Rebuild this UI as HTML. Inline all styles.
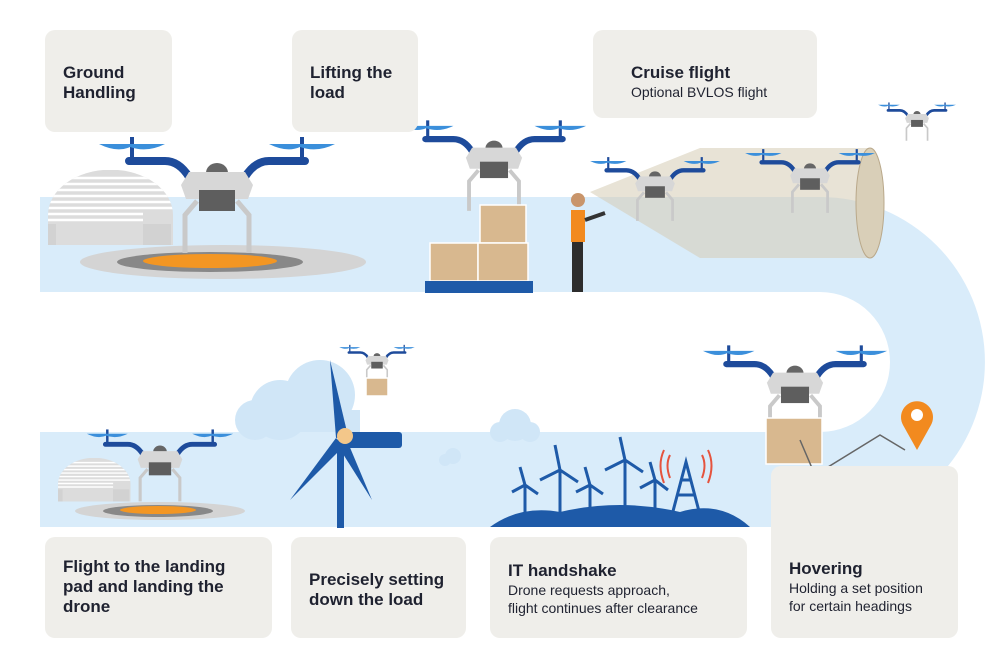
<!DOCTYPE html>
<html><head><meta charset="utf-8"><style>
body{margin:0;background:#fff;width:1000px;height:666px;overflow:hidden;font-family:"Liberation Sans",sans-serif}
.box{position:absolute;background:#efeeea;border-radius:10px;color:#1f2230;font-weight:bold;font-size:17px;line-height:20px;padding:0 18px;box-sizing:border-box}
.sub{font-weight:normal;font-size:14px;line-height:18px}
</style></head><body>
<svg width="1000" height="666" style="position:absolute;left:0;top:0">
<defs>
<clipPath id="hc"><path d="M0,75 L0,45 A62,45 0 0 1 125,45 L125,75 Z"/></clipPath>
<g id="drone">
 <rect x="-87" y="-38" width="4" height="26" fill="#1e4b9b"/>
 <rect x="83" y="-38" width="4" height="26" fill="#1e4b9b"/>
 <path d="M-118,-31 Q-100,-22 -87,-28 Q-70,-22 -52,-31 Z" fill="#3b8fdb"/>
 <path d="M52,-31 Q70,-22 83,-28 Q100,-22 118,-31 Z" fill="#3b8fdb"/>
 <path d="M-88,-14 L-52,-14 Q-38,-14 -28,2" stroke="#1e4b9b" stroke-width="8" fill="none" stroke-linecap="round"/>
 <path d="M88,-14 L52,-14 Q38,-14 28,2" stroke="#1e4b9b" stroke-width="8" fill="none" stroke-linecap="round"/>
 <path d="M-11,-2 A11,10 0 0 1 11,-2 Z" fill="#666"/>
 <path d="M-28,-3 L28,-3 L36,10 L31,24 L-31,24 L-36,10 Z" fill="#d7d7d7"/>
 <rect x="-18" y="15" width="36" height="21" fill="#5e5e5e"/>
 <path d="M-20,26 L-32,40 L-32,78 M20,26 L32,40 L32,78" stroke="#c9c9c9" stroke-width="5" fill="none"/>
</g>
<g id="hangar">
 <g clip-path="url(#hc)">
  <rect x="0" y="0" width="125" height="75" fill="#dcdcdc"/>
  <g stroke="#fff" stroke-width="2.5"><line x1="0" y1="8" x2="125" y2="8"/><line x1="0" y1="14" x2="125" y2="14"/><line x1="0" y1="20" x2="125" y2="20"/><line x1="0" y1="26" x2="125" y2="26"/><line x1="0" y1="32" x2="125" y2="32"/><line x1="0" y1="38" x2="125" y2="38"/><line x1="0" y1="44" x2="95" y2="44"/><line x1="0" y1="50" x2="95" y2="50"/></g>
 </g>
 <rect x="0" y="54" width="100" height="8" fill="#dcdcdc"/>
 <rect x="95" y="54" width="28" height="21" fill="#d2d2d2"/>
 <rect x="0" y="54" width="8" height="21" fill="#d2d2d2"/>
</g>
</defs>
<!-- band -->
<path d="M40,197 L820,197 A165,165 0 0 1 820,527 L40,527 L40,432 L820,432 A70,70 0 0 0 820,292 L40,292 Z" fill="#d9ecfa"/>
<!-- clouds -->
<g fill="#d0e6f7"><circle cx="280" cy="410" r="30"/><circle cx="320" cy="395" r="35"/><circle cx="255" cy="420" r="20"/><rect x="240" y="410" width="120" height="22"/>
<circle cx="515" cy="425" r="16"/><circle cx="500" cy="432" r="10"/><circle cx="530" cy="432" r="10"/>
<circle cx="453" cy="456" r="8"/><circle cx="445" cy="460" r="6"/></g>
<path d="M490,527 Q520,505 560,512 Q620,498 680,512 Q720,500 750,527 Z" fill="#1e5aa8"/>
<!-- hangars & pads -->
<use href="#hangar" transform="translate(48,170)"/>
<ellipse cx="223" cy="262" rx="143" ry="17" fill="#d4d4d4"/><ellipse cx="210" cy="262" rx="93" ry="10" fill="#888"/><ellipse cx="210" cy="261" rx="67" ry="7" fill="#f39623"/>
<use href="#hangar" transform="translate(58,458) scale(0.58)"/>
<ellipse cx="160" cy="511" rx="85" ry="9" fill="#d4d4d4"/><ellipse cx="158" cy="511" rx="55" ry="6" fill="#888"/><ellipse cx="158" cy="510" rx="38" ry="4" fill="#f39623"/>
<!-- cone -->
<path d="M590,192 L700,148 L870,148 L870,258 L700,258 Z" fill="#d6ccb4" opacity="0.55"/>
<ellipse cx="870" cy="203" rx="14" ry="55" fill="#d9cfb8" stroke="#b9a88a"/>
<!-- drones -->
<use href="#drone" transform="translate(217,175)"/>
<use href="#drone" transform="translate(494,150) scale(0.78)"/>
<use href="#drone" transform="translate(655,178) scale(0.55)"/>
<use href="#drone" transform="translate(810,170) scale(0.55)"/>
<use href="#drone" transform="translate(917,115) scale(0.33)"/>
<use href="#drone" transform="translate(795,375) scale(0.78)"/>
<use href="#drone" transform="translate(160,453) scale(0.62)"/>
<use href="#drone" transform="translate(377,357) scale(0.32)"/>
<!-- boxes -->
<g fill="#d8b88f" stroke="#fff" stroke-width="1.5">
<rect x="480" y="205" width="46" height="38"/><rect x="430" y="243" width="48" height="38"/><rect x="478" y="243" width="50" height="38"/>
<rect x="766" y="418" width="56" height="46"/><rect x="366" y="378" width="22" height="18"/></g>
<rect x="425" y="281" width="108" height="12" fill="#1e5aa8"/>
<!-- person -->
<circle cx="578" cy="200" r="7" fill="#c9956b"/><rect x="571" y="210" width="14" height="32" fill="#f28a1f"/><rect x="572" y="242" width="11" height="50" fill="#2d2d2d"/><line x1="585" y1="220" x2="605" y2="213" stroke="#333" stroke-width="4"/>
<!-- turbine -->
<rect x="337" y="440" width="7" height="88" fill="#1e5aa8"/>
<path d="M336,438 L330,360 L348,436 Z" fill="#1e5aa8"/>
<path d="M336,438 L290,500 L344,446 Z" fill="#1e5aa8"/>
<path d="M338,446 L372,500 L346,438 Z" fill="#1e5aa8"/>
<rect x="340" y="432" width="62" height="16" rx="3" fill="#1e5aa8"/><circle cx="345" cy="436" r="8" fill="#f3c78a"/>
<!-- wind farm -->
<g stroke="#1e5aa8" stroke-width="3"><line x1="560" y1="470" x2="560" y2="515"/><line x1="625" y1="460" x2="625" y2="515"/><line x1="655" y1="480" x2="655" y2="515"/><line x1="525" y1="485" x2="525" y2="515"/><line x1="590" y1="485" x2="590" y2="515"/>
<path d="M560,470 L555,445 M560,470 L540,480 M560,470 L578,482 M625,460 L620,437 M625,460 L605,470 M625,460 L643,472 M655,480 L650,462 M655,480 L640,488 M655,480 L668,490 M525,485 L520,467 M525,485 L512,492 M525,485 L538,494 M590,485 L585,467 M590,485 L576,492 M590,485 L603,494" fill="none"/></g>
<path d="M672,515 L686,462 L700,515 M678,495 L694,495 M682,480 L690,480" stroke="#1e5aa8" stroke-width="3" fill="none"/>
<path d="M670,455 Q665,465 670,478 M702,455 Q707,465 702,478 M664,450 Q657,465 664,483 M708,450 Q715,465 708,483" stroke="#e5533d" stroke-width="2" fill="none"/>
<!-- path & pin -->
<path d="M800,440 L815,475 L880,435 L905,450" stroke="#666" stroke-width="1.5" fill="none"/>
<path d="M917,450 L903,425 A16,16 0 1 1 931,425 Z" fill="#f28a1f"/><circle cx="917" cy="415" r="6" fill="#fff"/>
</svg>
<div class="box" style="left:45px;top:30px;width:127px;height:102px;padding-top:33px">Ground<br>Handling</div>
<div class="box" style="left:292px;top:30px;width:126px;height:102px;padding-top:33px">Lifting the<br>load</div>
<div class="box" style="left:593px;top:30px;width:224px;height:88px;padding-top:33px;padding-left:38px">Cruise flight<div class="sub">Optional BVLOS flight</div></div>
<div class="box" style="left:45px;top:537px;width:227px;height:101px;padding-top:20px">Flight to the landing<br>pad and landing the<br>drone</div>
<div class="box" style="left:291px;top:537px;width:175px;height:101px;padding-top:33px">Precisely setting<br>down the load</div>
<div class="box" style="left:490px;top:537px;width:257px;height:101px;padding-top:24px">IT handshake<div class="sub">Drone requests approach,<br>flight continues after clearance</div></div>
<div class="box" style="left:771px;top:466px;width:187px;height:172px;padding-top:93px">Hovering<div class="sub">Holding a set position<br>for certain headings</div></div>
</body></html>
